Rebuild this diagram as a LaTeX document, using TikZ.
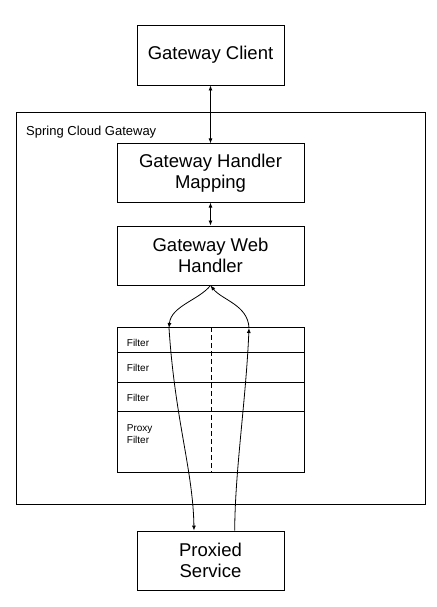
\documentclass[tikz,border=0pt]{standalone}
\usepackage{fontspec}
\setmainfont{Liberation Sans}
\usetikzlibrary{arrows.meta}

\begin{document}
\begin{tikzpicture}[x=1pt, y=-1pt,
 box/.style={draw, line width=0.9pt, align=center, inner sep=0pt, font=\fontsize{18.5}{21.5}\selectfont},
 row/.style={draw, line width=0.9pt, minimum width=187pt, inner sep=0pt, anchor=north west},
 flt/.style={font=\fontsize{10}{12.3}\selectfont, align=left, inner sep=0pt},
 link/.style={line width=0.8pt, {Latex[length=5pt,width=4pt]}-{Latex[length=5pt,width=4pt]}},
 flow/.style={line width=0.8pt, -{Latex[length=5pt,width=4pt]}},
]
 \useasboundingbox (0,0) rectangle (436,607);
 % outer gateway frame
 \node[draw, line width=1pt, minimum width=409.3pt, minimum height=391.7pt, inner sep=0pt] (scg) at (220.65,308.15) {};
 \node[font=\fontsize{13}{15}\selectfont, anchor=base west, inner sep=0pt] (scgname) at (26,135.3) {Spring Cloud Gateway};
 % main boxes
 \node[box, minimum width=147pt, minimum height=60pt] (client) at (210.5,55) {Gateway Client};
 \node[box, minimum width=187pt, minimum height=58.3pt] (mapping) at (210.5,173) {Gateway Handler\\Mapping};
 \node[box, minimum width=187pt, minimum height=59pt] (web) at (210.5,255.5) {Gateway Web\\Handler};
 \node[box, minimum width=147pt, minimum height=59pt] (proxied) at (210.5,560.5) {Proxied\\Service};
 % filter chain
 \node[row, minimum height=25pt] (f1) at (117,327) {};
 \node[row, minimum height=30pt] (f2) at (117,352) {};
 \node[row, minimum height=29pt] (f3) at (117,382) {};
 \node[row, minimum height=61pt] (f4) at (117,411) {};
 \node[flt, anchor=west] (f1txt) at (126.7,342.7) {Filter};
 \node[flt, anchor=west] (f2txt) at (126.7,367.7) {Filter};
 \node[flt, anchor=west] (f3txt) at (126.7,397.7) {Filter};
 \node[flt, anchor=north west] (f4txt) at (126.7,424.1) {Proxy\\Filter};
 \draw[line width=0.8pt, dash pattern=on 5pt off 3pt] (f1.north) -- (f4.south);
 % request / response path
 \coordinate (ltop) at (169,328);
 \coordinate (rtop) at (249,328);
 \draw[link] (client.south) -- (mapping.north);
 \draw[link] (mapping.south) -- (web.north);
 \draw[flow] (web.south) .. controls (199,300) and (171,306) .. (ltop);
 \draw[flow] (ltop) .. controls (175,420) and (193,470) .. ([xshift=-16.5pt]proxied.north);
 \draw[flow] ([xshift=24.2pt]proxied.north) .. controls (235,470) and (246,400) .. (rtop);
 \draw[flow] (rtop) .. controls (248,305) and (222,300) .. (web.south);
\end{tikzpicture}
\end{document}
